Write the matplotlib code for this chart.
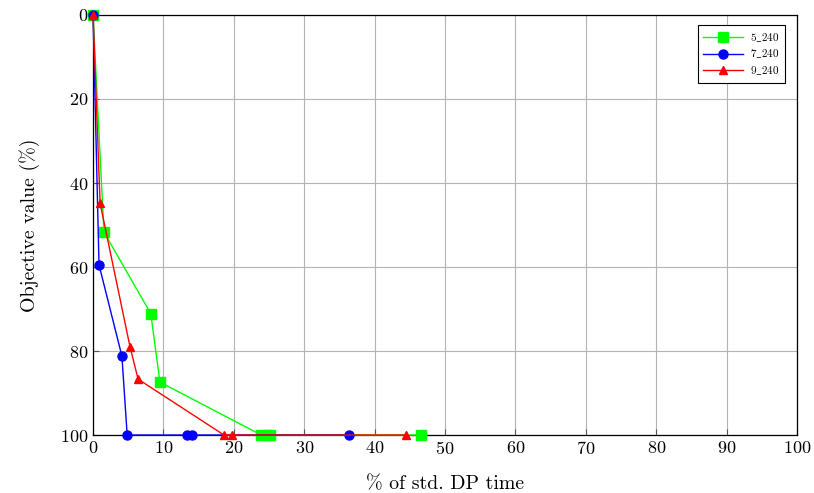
import matplotlib
matplotlib.use("Agg")
import matplotlib.pyplot as plt

plt.rcParams["font.family"] = ["cmr10", "DejaVu Serif"]
plt.rcParams["mathtext.fontset"] = "cm"
plt.rcParams["axes.formatter.use_mathtext"] = True

# series: x = % of std. DP time, y = objective value (%)
x_5 = [0, 1.55, 8.2, 9.5, 23.9, 24.5, 25.1, 46.6]
y_5 = [0, 51.7, 71.1, 87.4, 100, 100, 100, 100]

x_7 = [0, 0.85, 4.1, 4.85, 13.35, 14.1, 36.4]
y_7 = [0, 59.5, 81.2, 100, 100, 100, 100]

x_9 = [0, 1.0, 5.25, 6.4, 18.6, 19.7, 44.5]
y_9 = [0, 44.8, 79.0, 86.7, 100, 100, 100]

labels = [r"$\mathrm{5\_240}$", r"$\mathrm{7\_240}$", r"$\mathrm{9\_240}$"]
x_ticks = list(range(0, 101, 10))
y_ticks = list(range(0, 101, 20))

fig = plt.figure(figsize=(8.14, 4.93), dpi=100)
ax = fig.add_axes([0.1143, 0.1176, 0.8649, 0.852])

ax.plot(x_5, y_5, color="#00ff00", marker="s", markersize=6.5, lw=1, label=labels[0], zorder=3, clip_on=False)
ax.plot(x_7, y_7, color="#0000ff", marker="o", markersize=6.5, lw=1, label=labels[1], zorder=3, clip_on=False)
ax.plot(x_9, y_9, color="#ff0000", marker="^", markersize=6, lw=1, label=labels[2], zorder=3, clip_on=False)

ax.set_xlim(0, 100)
ax.set_ylim(100, 0)
ax.set_xticks(x_ticks)
ax.set_yticks(y_ticks)
ax.grid(True, color="#b3b3b3", lw=0.8)
ax.set_axisbelow(True)
ax.tick_params(direction="in", length=4, labelsize=13, color="#555555")
for s in ax.spines.values():
    s.set_linewidth(0.9)

ax.set_xlabel("% of std. DP time", fontsize=14.3, labelpad=13)
ax.set_ylabel("Objective value (%)", fontsize=14.3, labelpad=14)

leg = ax.legend(loc="upper right", bbox_to_anchor=(0.9875, 0.983), fontsize=8,
                fancybox=False, edgecolor="black", framealpha=1,
                handlelength=3.6, borderpad=0.5, labelspacing=0.35,
                handletextpad=0.6, borderaxespad=0.3)
leg.get_frame().set_linewidth(0.8)

fig.savefig("out.png", dpi=100)
